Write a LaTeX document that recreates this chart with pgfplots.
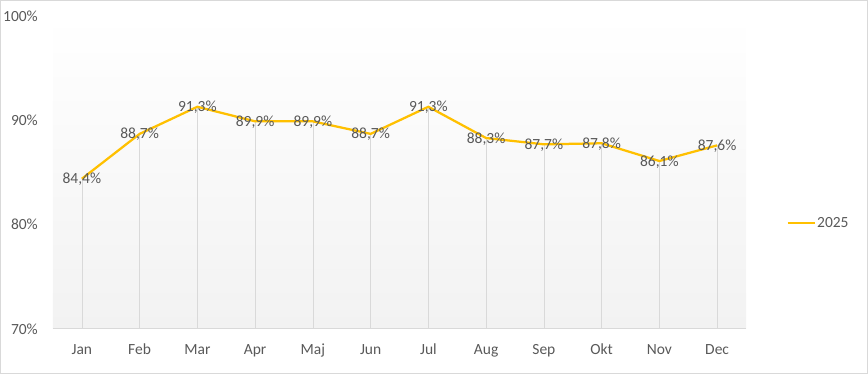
\documentclass[border=0pt]{standalone}
\usepackage{fontspec}
\setmainfont{Carlito}
\usepackage{pgfplots}
\pgfplotsset{compat=1.18}
\definecolor{gridgray}{HTML}{D9D9D9}
\definecolor{txtgray}{HTML}{595959}
\definecolor{gold}{HTML}{FFC000}
\definecolor{bggray}{HTML}{F2F2F2}
\newcommand{\cf}{\fontsize{15.5}{18}\selectfont}
\begin{document}
\begin{tikzpicture}
\path[use as bounding box] (0,0) rectangle (868pt,374pt);
\draw[gridgray, line width=1pt] (0.5pt,0.5pt) rectangle (867.5pt,373.5pt);
\begin{axis}[
  at={(53pt,45pt)}, anchor=south west,
  scale only axis, width=693pt, height=313pt,
  /pgf/number format/assume math mode=true,
  xmin=-0.5, xmax=11.5, ymin=70, ymax=100,
  xtick={0,...,11},
  xticklabels={Jan,Feb,Mar,Apr,Maj,Jun,Jul,Aug,Sep,Okt,Nov,Dec},
  ytick={70,80,90,100}, yticklabels={70\%,80\%,90\%,100\%},
  major tick length=0pt,
  axis x line=bottom, axis y line=left,
  axis line style={-},
  x axis line style={draw=gridgray, line width=1pt},
  y axis line style={draw=none},
  tick label style={font=\cf, text=txtgray},
  xticklabel style={anchor=base, yshift=-26pt},
  yticklabel style={anchor=east, inner sep=0pt, xshift=-15pt},
  axis background/.style={shade, top color=white, bottom color=bggray},
  legend style={at={(1.058,0.339)}, anchor=west, draw=none, fill=none,
    font=\cf, text=txtgray, inner sep=0pt, nodes={inner sep=1.5pt}},
  legend image code/.code={\draw[#1] (0pt,0pt) -- (27pt,0pt);},
]
\addplot[ycomb, gridgray, line width=0.75pt, forget plot] coordinates {
(0,84.4) (1,88.7) (2,91.3) (3,89.9) (4,89.9) (5,88.7)
(6,91.3) (7,88.3) (8,87.7) (9,87.8) (10,86.1) (11,87.6)};
\addplot[gold, line width=2.25pt,
  nodes near coords={\pgfmathprintnumber[fixed,fixed zerofill,precision=1,use comma,assume math mode=true]{\pgfplotspointmeta}\%},
  every node near coord/.append style={font=\cf, text=txtgray, anchor=base, yshift=-5pt, inner sep=0pt}]
coordinates {
(0,84.4) (1,88.7) (2,91.3) (3,89.9) (4,89.9) (5,88.7)
(6,91.3) (7,88.3) (8,87.7) (9,87.8) (10,86.1) (11,87.6)};
\legend{2025}
\end{axis}
\end{tikzpicture}
\end{document}
